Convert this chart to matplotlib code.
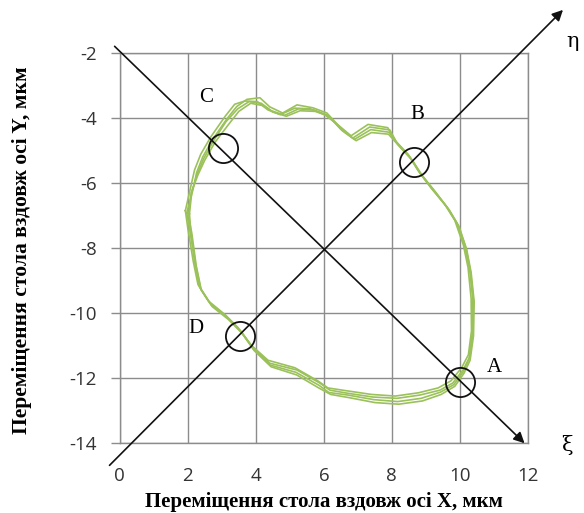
import matplotlib
matplotlib.use("Agg")
import matplotlib.pyplot as plt

plt.rcParams["axes.unicode_minus"] = False

# ---- data ----
x_ticks = [0, 2, 4, 6, 8, 10, 12]
y_ticks = [-14, -12, -10, -8, -6, -4, -2]

lap1_x = [1.97, 2.15, 2.26, 2.44, 2.74, 3.15, 3.44, 3.74, 4.12, 4.41, 4.79, 5.21, 5.68, 6.09, 6.47, 6.85, 7.35, 7.94, 8.15, 8.53, 8.82, 9.21, 9.62, 9.91, 10.15, 10.29, 10.38, 10.38, 10.29, 10.09, 9.79, 9.41, 8.82, 8.15, 7.44, 6.68, 6.18, 5.88, 5.21, 4.41, 3.91, 3.53, 3.15, 2.65, 2.35, 2.21, 2.06, 1.97]
lap1_y = [-6.92, -6.22, -5.68, -5.2, -4.65, -4.03, -3.65, -3.43, -3.38, -3.66, -3.85, -3.6, -3.69, -3.85, -4.28, -4.62, -4.28, -4.37, -4.77, -5.2, -5.69, -6.22, -6.74, -7.23, -7.97, -8.68, -9.6, -10.62, -11.35, -11.75, -12.15, -12.37, -12.52, -12.62, -12.58, -12.46, -12.37, -12.15, -11.75, -11.54, -11.05, -10.52, -10.12, -9.69, -9.2, -8.46, -7.45, -6.92]

lap2_x = [2.02, 2.1, 2.3, 2.5, 2.8, 3.2, 3.5, 3.85, 4.2, 4.5, 4.9, 5.3, 5.75, 6.15, 6.55, 6.95, 7.4, 7.9, 8.2, 8.6, 8.9, 9.3, 9.7, 9.98, 10.2, 10.33, 10.42, 10.4, 10.3, 10.12, 9.85, 9.45, 8.9, 8.2, 7.5, 6.75, 6.2, 5.85, 5.2, 4.45, 3.95, 3.6, 3.2, 2.72, 2.4, 2.25, 2.12, 2.02]
lap2_y = [-7.0, -6.3, -5.75, -5.3, -4.75, -4.2, -3.8, -3.55, -3.62, -3.82, -3.95, -3.78, -3.8, -3.95, -4.4, -4.7, -4.45, -4.5, -4.85, -5.3, -5.78, -6.3, -6.85, -7.35, -8.05, -8.75, -9.65, -10.7, -11.45, -11.85, -12.25, -12.5, -12.7, -12.8, -12.75, -12.6, -12.5, -12.3, -11.9, -11.65, -11.15, -10.62, -10.2, -9.8, -9.3, -8.55, -7.55, -7.0]

lap3_x = [1.93, 2.08, 2.2, 2.38, 2.68, 3.1, 3.38, 3.68, 4.05, 4.35, 4.72, 5.15, 5.6, 6.02, 6.4, 6.8, 7.3, 7.88, 8.1, 8.48, 8.76, 9.15, 9.55, 9.85, 10.1, 10.24, 10.33, 10.34, 10.25, 10.05, 9.74, 9.36, 8.78, 8.1, 7.4, 6.62, 6.12, 5.82, 5.15, 4.36, 3.86, 3.48, 3.1, 2.6, 2.3, 2.16, 2.0, 1.93]
lap3_y = [-6.85, -6.15, -5.6, -5.12, -4.58, -3.95, -3.58, -3.48, -3.5, -3.75, -3.9, -3.7, -3.72, -3.9, -4.2, -4.55, -4.2, -4.3, -4.7, -5.12, -5.6, -6.15, -6.65, -7.15, -7.9, -8.6, -9.55, -10.55, -11.28, -11.68, -12.08, -12.3, -12.45, -12.55, -12.5, -12.38, -12.3, -12.08, -11.68, -11.45, -10.98, -10.45, -10.05, -9.62, -9.12, -8.4, -7.38, -6.85]

lap4_x = [2.05, 2.12, 2.28, 2.47, 2.76, 3.12, 3.47, 3.8, 4.16, 4.46, 4.85, 5.26, 5.72, 6.12, 6.5, 6.9, 7.38, 7.92, 8.18, 8.56, 8.86, 9.26, 9.66, 9.95, 10.18, 10.31, 10.4, 10.36, 10.27, 10.1, 9.82, 9.43, 8.86, 8.17, 7.47, 6.71, 6.15, 5.86, 5.18, 4.43, 3.93, 3.56, 3.18, 2.69, 2.38, 2.23, 2.09, 2.05]
lap4_y = [-6.95, -6.26, -5.72, -5.25, -4.7, -4.12, -3.72, -3.5, -3.55, -3.78, -3.92, -3.72, -3.76, -3.92, -4.35, -4.66, -4.36, -4.44, -4.82, -5.25, -5.74, -6.26, -6.8, -7.3, -8.0, -8.72, -9.62, -10.66, -11.4, -11.8, -12.2, -12.43, -12.62, -12.72, -12.66, -12.52, -12.44, -12.22, -11.82, -11.6, -11.1, -10.57, -10.16, -9.75, -9.25, -8.5, -7.5, -6.95]

point_names = ["A", "B", "C", "D"]
point_x = [10.0, 8.65, 3.03, 3.53]
point_y = [-12.12, -5.35, -4.92, -10.7]
label_x = [11.0, 8.76, 2.53, 2.24]
label_y = [-11.66, -3.9, -3.38, -10.46]

xi_start = (-0.15, -1.8)
xi_end = (11.9, -14.0)
eta_start = (-0.3, -14.68)
eta_end = (13.03, -0.68)

x_label = "Переміщення стола вздовж осі X, мкм"
y_label = "Переміщення стола вздовж осі Y, мкм"

# ---- figure ----
fig = plt.figure(figsize=(5.84, 5.13), dpi=100)
ax = fig.add_axes([0.205, 0.136, 0.699, 0.761])

green = "#9bc15a"
for lx, ly in [(lap1_x, lap1_y), (lap2_x, lap2_y), (lap3_x, lap3_y), (lap4_x, lap4_y)]:
    ax.plot(lx, ly, color=green, lw=1.2, zorder=3)

# rotated axes ξ, η
for s, e in [(xi_start, xi_end), (eta_start, eta_end)]:
    ax.annotate("", xy=e, xytext=s, xycoords="data", textcoords="data",
                annotation_clip=False,
                arrowprops=dict(arrowstyle="-|>", color="#111111", lw=1.2,
                                mutation_scale=16, shrinkA=0, shrinkB=0),
                zorder=4)

ax.plot(point_x, point_y, linestyle="none", marker="o", ms=21, mfc="none",
        mec="#111111", mew=1.3, zorder=5)
for n, tx, ty in zip(point_names, label_x, label_y):
    ax.text(tx, ty, n, fontsize=15, family="Liberation Serif", ha="center",
            va="center", zorder=6)

ax.text(13.15, -14.05, "ξ", fontsize=15, family="DejaVu Serif", ha="center",
        va="center", clip_on=False)
ax.text(13.3, -1.66, "η", fontsize=15, family="DejaVu Serif", ha="center",
        va="center", clip_on=False)

ax.set_xlim(0, 12)
ax.set_ylim(-14, -2)
ax.set_xticks(x_ticks)
ax.set_yticks(y_ticks)
ax.set_xticklabels([str(v) for v in x_ticks])
ax.set_yticklabels([str(v) for v in y_ticks])
ax.grid(True, color="#8c8c8c", lw=1.0)
ax.set_axisbelow(True)
for sp in ax.spines.values():
    sp.set_color("#8c8c8c")
    sp.set_linewidth(1.0)
ax.tick_params(axis="y", colors="#8c8c8c", length=6.5, width=1.0,
               labelcolor="#333333", labelsize=13.5, pad=10)
ax.tick_params(axis="x", colors="#8c8c8c", length=0, width=1.0,
               labelcolor="#333333", labelsize=13.5, pad=17)
for lbl in ax.get_xticklabels() + ax.get_yticklabels():
    lbl.set_family("Open Sans")

fig.text(324 / 584, 1 - 502 / 513, x_label, family="Liberation Serif",
         fontweight="bold", fontsize=15, ha="center", va="center")
fig.text(22 / 584, 1 - 250 / 513, y_label, family="Liberation Serif",
         fontweight="bold", fontsize=15.5, ha="center", va="center",
         rotation=90)

fig.savefig("out.png", dpi=100)
